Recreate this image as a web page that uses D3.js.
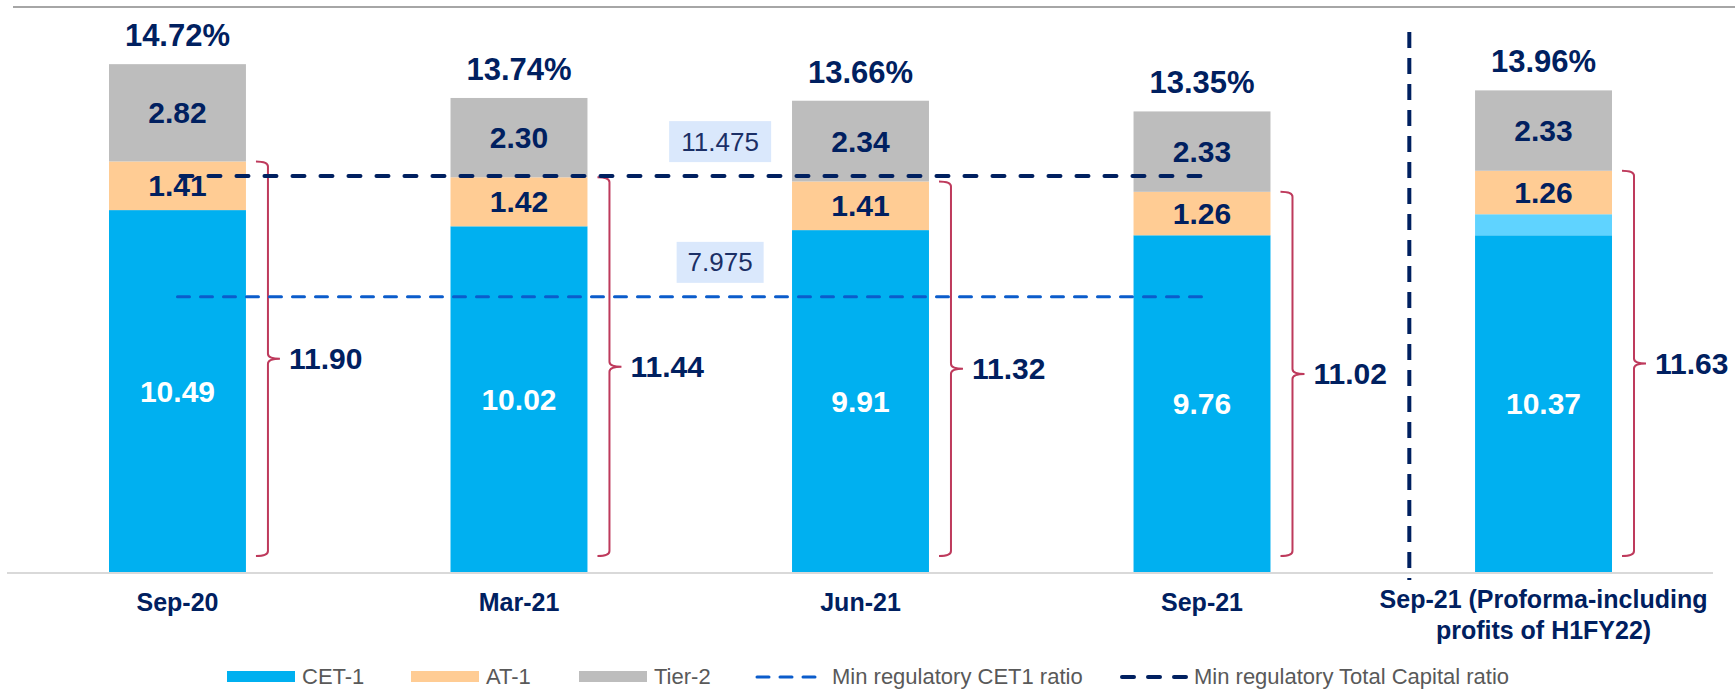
<!DOCTYPE html>
<html>
<head>
<meta charset="utf-8">
<script src="https://cdn.jsdelivr.net/npm/d3@7"></script>
<style>
  body { margin: 0; background: #fff; }
  svg { display: block; font-family: "Liberation Sans", Arial, sans-serif; }
</style>
</head>
<body>
<script>
const categories = ["Sep-20", "Mar-21", "Jun-21", "Sep-21", "Sep-21 (Proforma-including profits of H1FY22)"];
const cet1 = [10.49, 10.02, 9.91, 9.76, 10.37];
const profitsH1 = [0, 0, 0, 0, 0.61];   // light blue part of CET-1 in proforma bar
const at1 = [1.41, 1.42, 1.41, 1.26, 1.26];
const tier2 = [2.82, 2.30, 2.34, 2.33, 2.33];
const minCet1 = 7.975;
const minTotal = 11.475;
const legendLabels = ["CET-1", "AT-1", "Tier-2", "Min regulatory CET1 ratio", "Min regulatory Total Capital ratio"];

const w = 1735;
const h = 692;
const navy = "#002060";
const colors = { cet1: "#00B0F0", profit: "#5FD3FF", at1: "#FFCC94", tier2: "#BDBDBD" };
const bracketColor = "#BE3A5C";

const rows = categories.map((c, i) => ({
  cat: c,
  cet1: cet1[i],
  profit: profitsH1[i],
  at1: at1[i],
  tier2: tier2[i],
  tier1: cet1[i] + at1[i],
  total: cet1[i] + at1[i] + tier2[i]
}));

const xScale = d3.scaleBand()
  .domain(categories)
  .range([109, 1612])
  .paddingInner(0.599)
  .paddingOuter(0);
const bw = xScale.bandwidth();

const yScale = d3.scaleLinear()
  .domain([0, 16])
  .range([572, 20]);

const svg = d3.select("body")
  .append("svg")
  .attr("width", w)
  .attr("height", h);

// top rule
svg.append("line")
  .attr("x1", 13).attr("x2", w)
  .attr("y1", 7).attr("y2", 7)
  .attr("stroke", "#A6A6A6")
  .attr("stroke-width", 2);

// stacked segments
const segs = [];
rows.forEach(d => {
  segs.push({ cat: d.cat, y0: 0, y1: d.cet1 - d.profit, color: colors.cet1 });
  if (d.profit > 0) segs.push({ cat: d.cat, y0: d.cet1 - d.profit, y1: d.cet1, color: colors.profit });
  segs.push({ cat: d.cat, y0: d.cet1, y1: d.tier1, color: colors.at1 });
  segs.push({ cat: d.cat, y0: d.tier1, y1: d.total, color: colors.tier2 });
});

svg.selectAll("rect.seg")
  .data(segs)
  .enter()
  .append("rect")
  .attr("class", "seg")
  .attr("x", d => xScale(d.cat))
  .attr("y", d => yScale(d.y1))
  .attr("width", bw)
  .attr("height", d => yScale(d.y0) - yScale(d.y1))
  .attr("fill", d => d.color);

// baseline
svg.append("line")
  .attr("x1", 7).attr("x2", 1713)
  .attr("y1", yScale(0) + 1).attr("y2", yScale(0) + 1)
  .attr("stroke", "#D9D9D9")
  .attr("stroke-width", 2);

const cx = d => xScale(d.cat) + bw / 2;

// value labels in bars
const lab = svg.append("g")
  .attr("font-weight", "bold")
  .attr("font-size", 30)
  .attr("text-anchor", "middle")
  .attr("dominant-baseline", "central");

lab.selectAll("text.cet")
  .data(rows)
  .enter()
  .append("text")
  .attr("x", cx)
  .attr("y", d => yScale((d.cet1 - d.profit) / 2))
  .attr("fill", "#fff")
  .text(d => d.cet1.toFixed(2));

lab.selectAll("text.at")
  .data(rows)
  .enter()
  .append("text")
  .attr("x", cx)
  .attr("y", d => yScale(d.cet1 + d.at1 / 2))
  .attr("fill", navy)
  .text(d => d.at1.toFixed(2));

lab.selectAll("text.t2")
  .data(rows)
  .enter()
  .append("text")
  .attr("x", cx)
  .attr("y", d => yScale(d.tier1 + d.tier2 / 2))
  .attr("fill", navy)
  .text(d => d.tier2.toFixed(2));

svg.selectAll("text.total")
  .data(rows)
  .enter()
  .append("text")
  .attr("class", "total")
  .attr("x", cx)
  .attr("y", d => yScale(d.total) - 18)
  .attr("text-anchor", "middle")
  .attr("font-weight", "bold")
  .attr("font-size", 31)
  .attr("fill", navy)
  .text(d => d.total.toFixed(2) + "%");

// brackets for tier-1 (CET-1 + AT-1)
const bracket = d => {
  const x0 = xScale(d.cat) + bw + 10;
  const x1 = x0 + 12;
  const x2 = x1 + 12;
  const top = yScale(d.tier1);
  const bot = yScale(0) - 16;
  const mid = (top + bot) / 2;
  const r = 5;
  return `M${x0},${top} Q${x1},${top} ${x1},${top + r} L${x1},${mid - r} Q${x1},${mid} ${x2},${mid}` +
         ` Q${x1},${mid} ${x1},${mid + r} L${x1},${bot - r} Q${x1},${bot} ${x0},${bot}`;
};

svg.selectAll("path.bracket")
  .data(rows)
  .enter()
  .append("path")
  .attr("class", "bracket")
  .attr("d", bracket)
  .attr("fill", "none")
  .attr("stroke", bracketColor)
  .attr("stroke-width", 2);

svg.selectAll("text.tier1")
  .data(rows)
  .enter()
  .append("text")
  .attr("class", "tier1")
  .attr("x", d => xScale(d.cat) + bw + 43)
  .attr("y", d => (yScale(d.tier1) + yScale(0) - 16) / 2)
  .attr("dominant-baseline", "central")
  .attr("font-weight", "bold")
  .attr("font-size", 30)
  .attr("fill", navy)
  .text(d => d.tier1.toFixed(2));

// regulatory minimum lines
const lx1 = xScale(categories[0]) + bw / 2;
const lx2 = xScale(categories[3]) + bw / 2;

svg.append("line")
  .attr("x1", lx1).attr("x2", lx2)
  .attr("y1", yScale(minCet1)).attr("y2", yScale(minCet1))
  .attr("stroke", "#0B5CCB")
  .attr("stroke-width", 3)
  .attr("stroke-dasharray", "12 11")
  .attr("stroke-linecap", "round");

svg.append("line")
  .attr("x1", lx1 + 3).attr("x2", lx2)
  .attr("y1", yScale(minTotal)).attr("y2", yScale(minTotal))
  .attr("stroke", navy)
  .attr("stroke-width", 4)
  .attr("stroke-dasharray", "12 16")
  .attr("stroke-linecap", "round");

// boxes with min values
const boxX = xScale(categories[2]) - bw * 0.525;
[[minTotal, 102], [minCet1, 87]].forEach(([v, bwid]) => {
  const yb = yScale(v) - 14;
  svg.append("rect")
    .attr("x", boxX - bwid / 2)
    .attr("y", yb - 41)
    .attr("width", bwid)
    .attr("height", 41)
    .attr("fill", "#DAE8FC");
  svg.append("text")
    .attr("x", boxX)
    .attr("y", yb - 20.5)
    .attr("text-anchor", "middle")
    .attr("dominant-baseline", "central")
    .attr("font-size", 26)
    .attr("fill", "#1B2F66")
    .text(String(v));
});

// separator before proforma
const sepX = xScale(categories[4]) - bw * 0.48;
svg.append("line")
  .attr("x1", sepX).attr("x2", sepX)
  .attr("y1", 32).attr("y2", 580)
  .attr("stroke", navy)
  .attr("stroke-width", 4)
  .attr("stroke-dasharray", "16 10");

// x axis labels
const xAxis = d3.axisBottom(xScale).tickSize(0);
const gx = svg.append("g")
  .attr("transform", "translate(0," + yScale(0) + ")")
  .call(xAxis);
gx.select(".domain").remove();
gx.selectAll("text")
  .attr("dy", null)
  .attr("y", 39)
  .attr("font-family", "Liberation Sans, Arial, sans-serif")
  .attr("font-size", 25)
  .attr("font-weight", "bold")
  .attr("fill", navy);
gx.selectAll("text")
  .filter(d => d === categories[4])
  .text(null)
  .each(function () {
    const t = d3.select(this);
    t.append("tspan").attr("x", 0).attr("y", 36).text("Sep-21 (Proforma-including");
    t.append("tspan").attr("x", 0).attr("y", 67).text("profits of H1FY22)");
  });

// legend
const legend = svg.append("g")
  .attr("font-size", 22)
  .attr("fill", "#595959");
const ly = 677;
[[227, colors.cet1], [411, colors.at1], [579, colors.tier2]].forEach(([x, c], i) => {
  legend.append("rect")
    .attr("x", x).attr("y", ly - 6)
    .attr("width", 68).attr("height", 11)
    .attr("fill", c);
  legend.append("text")
    .attr("x", x + 75).attr("y", ly + 7)
    .text(legendLabels[i]);
});
legend.append("line")
  .attr("x1", 757).attr("x2", 815)
  .attr("y1", ly).attr("y2", ly)
  .attr("stroke", "#0B5CCB")
  .attr("stroke-width", 3)
  .attr("stroke-dasharray", "12 11")
  .attr("stroke-linecap", "round");
legend.append("text")
  .attr("x", 832).attr("y", ly + 7)
  .text(legendLabels[3]);
legend.append("line")
  .attr("x1", 1122).attr("x2", 1190)
  .attr("y1", ly).attr("y2", ly)
  .attr("stroke", navy)
  .attr("stroke-width", 4)
  .attr("stroke-dasharray", "12 14")
  .attr("stroke-linecap", "round");
legend.append("text")
  .attr("x", 1194).attr("y", ly + 7)
  .text(legendLabels[4]);
</script>
</body>
</html>
